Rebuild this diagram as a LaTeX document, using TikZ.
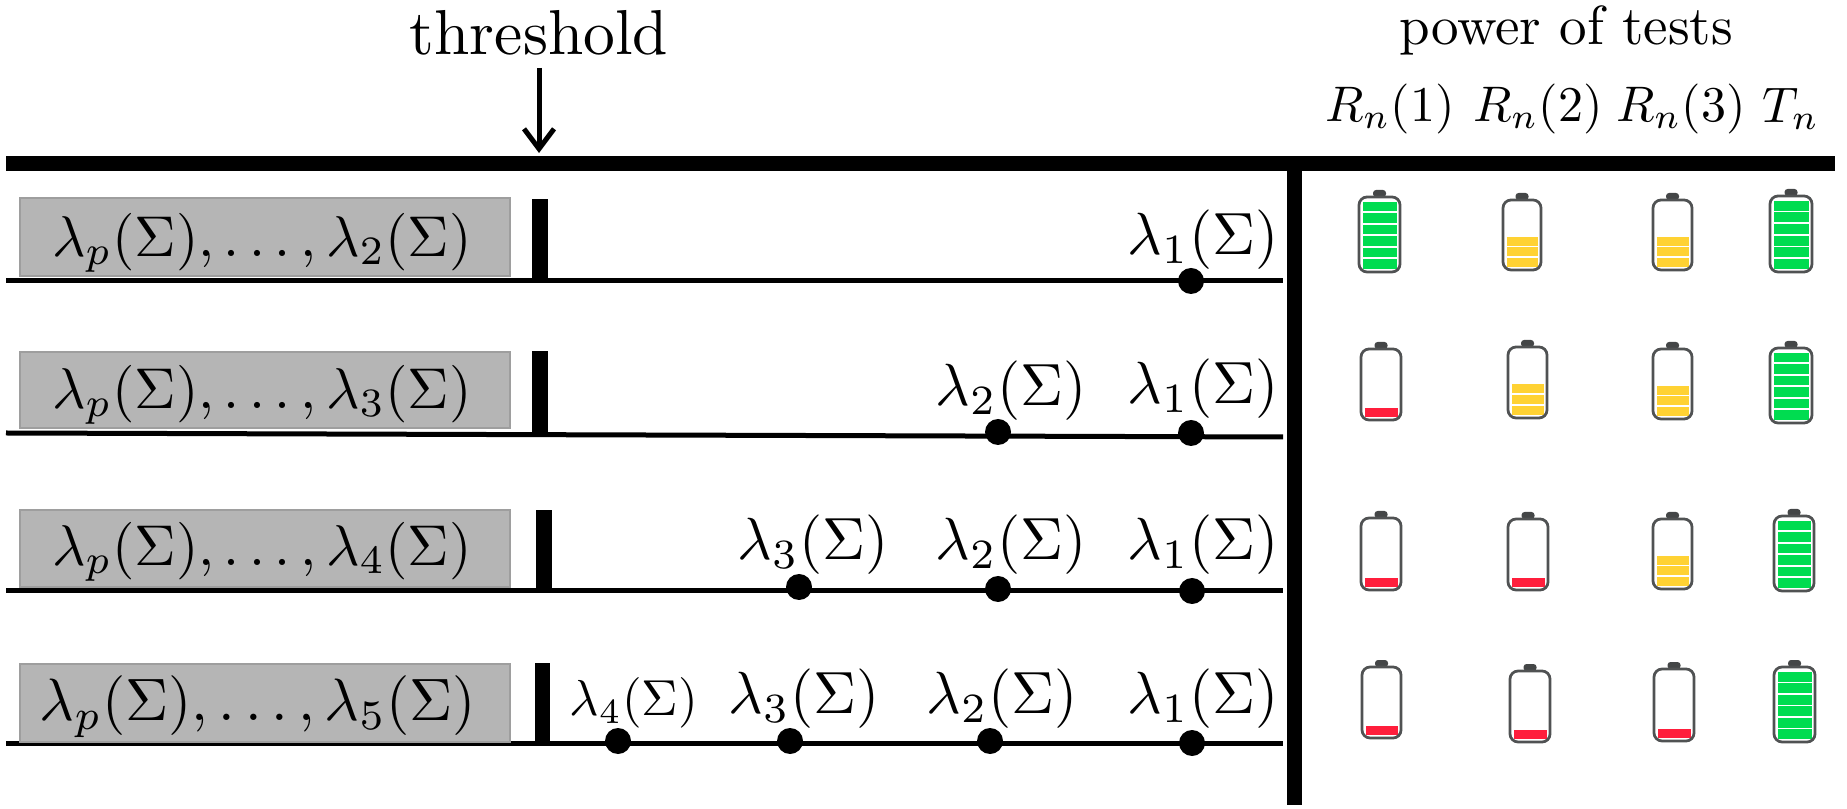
\documentclass[tikz,border=0pt]{standalone}
\usetikzlibrary{arrows.meta}
\definecolor{bgreen}{HTML}{00DC50}
\definecolor{byellow}{HTML}{FFD233}
\definecolor{bred}{HTML}{FF1E3C}
\definecolor{bedge}{HTML}{505253}
\definecolor{boxfill}{HTML}{B5B5B5}
\definecolor{boxedge}{HTML}{9E9E9E}
\tikzset{
 axisline/.style={line width=1pt,draw=black},
 thickbar/.style={fill=black,draw=none},
 greybox/.style={draw=boxedge,fill=boxfill,line width=0.4pt,inner sep=0pt},
 dotmark/.style={circle,fill=black,inner sep=0pt,minimum size=5.2pt},
 lab/.style={inner sep=0pt,scale=1.19,transform shape},
 boxlab/.style={inner sep=0pt,scale=1.15,transform shape},
 head/.style={inner sep=0pt,scale=1.0,transform shape},
}
% #1 x-left, #2 y-top, #3 x-right, #4 y-bottom, #5 colour, #6 number of bars (of 6)
\newcommand{\batt}[6]{%
 \pgfmathsetmacro{\bc}{(#1+#3)/2}
 \pgfmathsetmacro{\ph}{(#4-#2-8)/6}
 \fill[bedge!85!black,rounded corners=0.6pt] (\bc-6.5,#2+1) rectangle (\bc+6.5,#2-6);
 \foreach \i in {1,...,#6}{
  \pgfmathsetmacro{\ya}{#4-4-(\i-1)*\ph}
  \pgfmathsetmacro{\yb}{\ya-\ph+1.6}
  \fill[#5] (#1+4.5,\ya) rectangle (#3-4.5,\yb);
 }
 \draw[bedge,line width=0.55pt,rounded corners=1.6pt] (#1+1,#2+1) rectangle (#3-1,#4-1);
}
\begin{document}
\begin{tikzpicture}[x=0.2pt,y=-0.2pt]
\useasboundingbox (0,0) rectangle (1847,809);
% header
\node[inner sep=0pt,scale=1.27,transform shape] (thr) at (539,33) {threshold};
\node[inner sep=0pt,scale=1.1,transform shape] (pow) at (1566,30) {power of tests};
\node[head] (r1) at (1390,109) {$R_n(1)$};
\node[head] (r2) at (1538,109) {$R_n(2)$};
\node[head] (r3) at (1681,109) {$R_n(3)$};
\node[head] (tn) at (1791,109) {$T_n$};
% frame
\fill[thickbar] (6,156) rectangle (1835,171);
\fill[thickbar] (1287,171) rectangle (1302,805);
\coordinate (thrtip) at (539,153);
\coordinate (thrtail) at (539,68);
\draw[-{Straight Barb[length=4pt,width=6pt]},line width=1pt] (thrtail) -- (thrtip);
% row 1
\coordinate (a1) at (6,281); \coordinate (b1) at (1283,281);
\draw[axisline] (a1) -- (b1);
\node[greybox,minimum width=98pt,minimum height=15.6pt] (box1) at (265,237.5) {};
\node[boxlab] (t1) at (262,243) {$\lambda_p(\Sigma),\dots,\lambda_2(\Sigma)$};
\fill[thickbar] (532,199) rectangle (548,281);
\node[dotmark] (d11) at (1191,281) {};
\node[lab] (l11) at (1203,240) {$\lambda_1(\Sigma)$};
% row 2
\coordinate (a2) at (6,433); \coordinate (b2) at (1283,437);
\draw[axisline] (a2) -- (b2);
\node[greybox,minimum width=98pt,minimum height=15.2pt] (box2) at (265,390) {};
\node[boxlab] (t2) at (262,395) {$\lambda_p(\Sigma),\dots,\lambda_3(\Sigma)$};
\fill[thickbar] (532,351) rectangle (548,434);
\node[dotmark] (d22) at (998,432) {};
\node[dotmark] (d21) at (1191,433) {};
\node[lab] (l22) at (1011,391) {$\lambda_2(\Sigma)$};
\node[lab] (l21) at (1203,389) {$\lambda_1(\Sigma)$};
% row 3
\coordinate (a3) at (6,591); \coordinate (b3) at (1283,591);
\draw[axisline] (a3) -- (b3);
\node[greybox,minimum width=98pt,minimum height=15.4pt] (box3) at (265,548.5) {};
\node[boxlab] (t3) at (262,552) {$\lambda_p(\Sigma),\dots,\lambda_4(\Sigma)$};
\fill[thickbar] (536,510) rectangle (552,591);
\node[dotmark] (d33) at (799,587) {};
\node[dotmark] (d32) at (998,589) {};
\node[dotmark] (d31) at (1192,591) {};
\node[lab] (l33) at (813,545) {$\lambda_3(\Sigma)$};
\node[lab] (l32) at (1011,545) {$\lambda_2(\Sigma)$};
\node[lab] (l31) at (1203,545) {$\lambda_1(\Sigma)$};
% row 4
\coordinate (a4) at (6,743); \coordinate (b4) at (1283,743);
\draw[axisline] (a4) -- (b4);
\node[greybox,minimum width=98pt,minimum height=15.6pt] (box4) at (265,703) {};
\node[boxlab,scale=1.04] (t4) at (258,707) {$\lambda_p(\Sigma),\dots,\lambda_5(\Sigma)$};
\fill[thickbar] (535,663) rectangle (550,743);
\node[dotmark] (d44) at (618,741) {};
\node[dotmark] (d43) at (790,741) {};
\node[dotmark] (d42) at (990,741) {};
\node[dotmark] (d41) at (1192,743) {};
\node[lab,scale=0.85] (l44) at (634,703) {$\lambda_4(\Sigma)$};
\node[lab] (l43) at (804,699) {$\lambda_3(\Sigma)$};
\node[lab] (l42) at (1002,699) {$\lambda_2(\Sigma)$};
\node[lab] (l41) at (1203,699) {$\lambda_1(\Sigma)$};
% batteries row 1
\batt{1358}{196}{1401}{273}{bgreen}{6}
\batt{1502}{199}{1542}{271}{byellow}{3}
\batt{1652}{199}{1693}{271}{byellow}{3}
\batt{1769}{195}{1813}{273}{bgreen}{6}
% row 2
\batt{1360}{348}{1402}{421}{bred}{1}
\batt{1507}{346}{1548}{419}{byellow}{3}
\batt{1652}{348}{1693}{420}{byellow}{3}
\batt{1769}{347}{1813}{424}{bgreen}{6}
% row 3
\batt{1360}{517}{1402}{591}{bred}{1}
\batt{1507}{518}{1549}{591}{bred}{1}
\batt{1652}{518}{1693}{590}{byellow}{3}
\batt{1773}{515}{1815}{592}{bgreen}{6}
% row 4
\batt{1361}{666}{1402}{739}{bred}{1}
\batt{1509}{670}{1551}{743}{bred}{1}
\batt{1653}{668}{1695}{742}{bred}{1}
\batt{1773}{666}{1816}{743}{bgreen}{6}
\end{tikzpicture}
\end{document}
